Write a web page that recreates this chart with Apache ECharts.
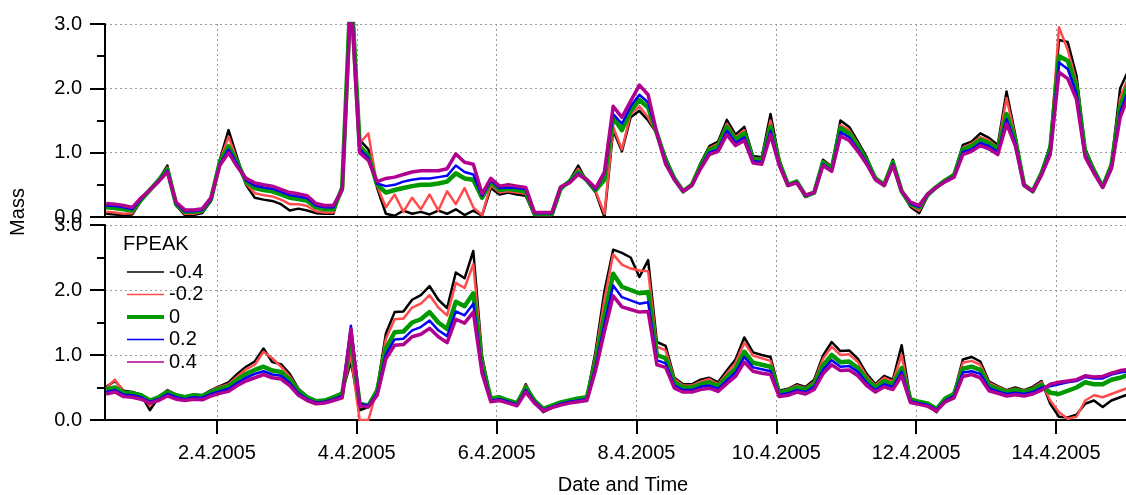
<!DOCTYPE html>
<html>
<head>
<meta charset="utf-8">
<script src="https://cdn.jsdelivr.net/npm/echarts@6/dist/echarts.min.js"></script>
<style>
  html, body { margin: 0; padding: 0; background: #fff; }
  #main { width: 1126px; height: 495px; }
</style>
</head>
<body>
<div id="main"></div>
<script>
// FPEAK values and their colours
const fpeakNames = ["-0.4", "-0.2", "0", "0.2", "0.4"]
const fpeakColors = ["#000000", "#ff4b4b", "#009900", "#0000ff", "#b0008f"]

// x ticks, in days after 1.4.2005 00:00
const tickDays = [1, 3, 5, 7, 9, 11, 13]

// samples every 3 h, first one 31.3.2005 10:00
const firstSample = -14 / 24
const stepDays = 3 / 24

// upper panel
const topM04 = [
  0.05,0.04,0.03,0.04,0.25,0.43,0.58,0.80,0.18,0.03,
  0.03,0.06,0.25,0.89,1.35,0.92,0.50,0.30,0.27,0.25,
  0.20,0.10,0.13,0.10,0.06,0.05,0.05,0.50,3.80,1.20,
  1.05,0.45,0.05,0.02,0.10,0.05,0.08,0.04,0.10,0.05,
  0.12,0.03,0.10,0.02,0.45,0.35,0.38,0.35,0.33,0.02,
  0.02,0.02,0.42,0.56,0.80,0.55,0.38,0.00,1.35,1.02,
  1.55,1.65,1.50,1.30,0.93,0.61,0.39,0.50,0.84,1.10,
  1.17,1.51,1.28,1.40,0.95,0.93,1.60,0.89,0.50,0.56,
  0.31,0.37,0.89,0.78,1.50,1.40,1.17,0.93,0.61,0.50,
  0.89,0.39,0.16,0.06,0.33,0.47,0.58,0.67,1.12,1.17,
  1.30,1.23,1.12,1.95,1.28,0.50,0.39,0.70,1.12,2.75,
  2.72,2.20,1.06,0.75,0.47,0.84,2.00,2.30]
const topM02 = [
  0.08,0.07,0.05,0.06,0.26,0.42,0.57,0.77,0.19,0.05,
  0.05,0.08,0.27,0.87,1.25,0.88,0.52,0.37,0.34,0.32,
  0.27,0.20,0.20,0.17,0.09,0.07,0.07,0.47,3.70,1.15,
  1.30,0.48,0.15,0.35,0.08,0.30,0.12,0.35,0.10,0.40,
  0.20,0.45,0.15,0.03,0.50,0.38,0.40,0.38,0.36,0.03,
  0.03,0.03,0.44,0.55,0.75,0.56,0.40,0.05,1.40,1.05,
  1.60,1.72,1.55,1.30,0.90,0.61,0.39,0.50,0.82,1.07,
  1.14,1.45,1.24,1.35,0.92,0.90,1.50,0.87,0.50,0.55,
  0.32,0.37,0.87,0.77,1.43,1.35,1.14,0.90,0.61,0.50,
  0.87,0.39,0.18,0.10,0.34,0.47,0.57,0.66,1.08,1.14,
  1.24,1.19,1.08,1.85,1.24,0.50,0.39,0.69,1.08,2.95,
  2.60,2.10,1.03,0.73,0.47,0.82,1.85,2.20]
const top0 = [
  0.15,0.14,0.12,0.10,0.27,0.42,0.57,0.74,0.20,0.08,
  0.08,0.10,0.28,0.85,1.10,0.85,0.55,0.45,0.42,0.40,
  0.35,0.30,0.28,0.25,0.15,0.12,0.12,0.45,3.60,1.10,
  0.95,0.50,0.38,0.42,0.45,0.48,0.50,0.50,0.52,0.55,
  0.68,0.60,0.58,0.30,0.55,0.42,0.44,0.42,0.40,0.05,
  0.05,0.05,0.45,0.55,0.70,0.57,0.42,0.58,1.55,1.35,
  1.65,1.82,1.70,1.30,0.88,0.60,0.40,0.50,0.80,1.04,
  1.10,1.40,1.20,1.30,0.90,0.88,1.40,0.85,0.50,0.55,
  0.33,0.38,0.85,0.75,1.38,1.30,1.10,0.88,0.60,0.50,
  0.85,0.40,0.20,0.15,0.35,0.47,0.57,0.65,1.05,1.10,
  1.20,1.15,1.05,1.60,1.20,0.50,0.40,0.68,1.05,2.50,
  2.43,2.02,1.00,0.72,0.47,0.80,1.71,2.10]
const topP02 = [
  0.18,0.17,0.15,0.12,0.28,0.42,0.56,0.72,0.21,0.09,
  0.09,0.11,0.28,0.82,1.05,0.82,0.57,0.49,0.46,0.44,
  0.39,0.34,0.32,0.29,0.18,0.15,0.15,0.44,3.50,1.05,
  0.92,0.52,0.48,0.50,0.55,0.58,0.60,0.60,0.62,0.64,
  0.80,0.70,0.66,0.33,0.57,0.45,0.46,0.45,0.43,0.06,
  0.06,0.06,0.46,0.54,0.68,0.57,0.43,0.68,1.60,1.45,
  1.72,1.90,1.78,1.30,0.85,0.58,0.40,0.49,0.77,1.00,
  1.05,1.34,1.15,1.24,0.87,0.85,1.34,0.82,0.49,0.54,
  0.33,0.38,0.82,0.72,1.32,1.24,1.05,0.85,0.58,0.49,
  0.82,0.40,0.21,0.16,0.35,0.46,0.56,0.63,1.01,1.05,
  1.15,1.10,1.01,1.52,1.15,0.49,0.40,0.66,1.01,2.40,
  2.30,1.92,0.96,0.70,0.46,0.77,1.63,2.00]
const topP04 = [
  0.21,0.20,0.18,0.15,0.30,0.42,0.55,0.70,0.23,0.11,
  0.11,0.13,0.30,0.80,1.00,0.78,0.60,0.53,0.50,0.48,
  0.43,0.38,0.36,0.33,0.21,0.18,0.18,0.42,3.40,1.00,
  0.88,0.55,0.60,0.62,0.66,0.70,0.72,0.72,0.72,0.75,
  0.98,0.85,0.82,0.36,0.60,0.48,0.50,0.48,0.46,0.07,
  0.07,0.07,0.47,0.53,0.66,0.58,0.45,0.70,1.72,1.55,
  1.80,2.05,1.90,1.30,0.82,0.58,0.40,0.49,0.75,0.97,
  1.02,1.28,1.11,1.19,0.84,0.82,1.28,0.80,0.49,0.53,
  0.34,0.38,0.80,0.71,1.26,1.19,1.02,0.82,0.58,0.49,
  0.80,0.40,0.23,0.18,0.36,0.46,0.55,0.62,0.97,1.02,
  1.11,1.06,0.97,1.45,1.11,0.49,0.40,0.65,0.97,2.25,
  2.15,1.83,0.93,0.68,0.46,0.75,1.55,1.90]

// lower panel
const botM04 = [
  0.51,0.60,0.45,0.43,0.39,0.15,0.35,0.46,0.39,0.36,
  0.39,0.38,0.46,0.52,0.58,0.71,0.82,0.90,1.10,0.89,
  0.86,0.71,0.48,0.36,0.28,0.29,0.36,0.42,0.90,0.15,
  0.20,0.48,1.33,1.66,1.67,1.85,1.92,2.06,1.85,1.72,
  2.27,2.18,2.60,0.99,0.33,0.36,0.29,0.24,0.55,0.29,
  0.12,0.19,0.25,0.29,0.33,0.36,1.07,1.98,2.62,2.57,
  2.50,2.20,2.46,1.20,1.14,0.65,0.55,0.55,0.62,0.65,
  0.58,0.76,0.93,1.27,1.04,1.00,0.97,0.45,0.48,0.55,
  0.51,0.62,0.99,1.20,1.06,1.07,0.94,0.71,0.55,0.68,
  0.62,1.15,0.32,0.26,0.22,0.12,0.33,0.42,0.93,0.97,
  0.90,0.59,0.52,0.46,0.50,0.46,0.51,0.60,0.25,0.05,
  0.04,0.08,0.25,0.30,0.20,0.30,0.35,0.40]
const botM02 = [
  0.49,0.62,0.43,0.42,0.39,0.22,0.35,0.45,0.39,0.35,
  0.39,0.37,0.45,0.51,0.55,0.67,0.78,0.85,1.05,0.95,
  0.82,0.67,0.47,0.35,0.28,0.29,0.35,0.41,1.00,0.00,
  0.00,0.47,1.25,1.55,1.56,1.73,1.79,1.92,1.73,1.61,
  2.11,2.03,2.40,0.95,0.33,0.35,0.29,0.24,0.53,0.29,
  0.13,0.19,0.25,0.29,0.33,0.35,1.01,1.85,2.55,2.39,
  2.33,2.30,2.29,1.13,1.07,0.63,0.53,0.53,0.59,0.63,
  0.55,0.72,0.88,1.19,0.99,0.95,0.91,0.43,0.47,0.53,
  0.49,0.59,0.94,1.13,1.00,1.01,0.89,0.67,0.53,0.65,
  0.59,1.00,0.31,0.27,0.23,0.13,0.33,0.41,0.88,0.91,
  0.85,0.57,0.51,0.45,0.48,0.45,0.49,0.58,0.30,0.12,
  0.02,0.05,0.30,0.38,0.35,0.40,0.45,0.50]
const bot0 = [
  0.47,0.50,0.42,0.41,0.38,0.30,0.35,0.43,0.38,0.35,
  0.38,0.37,0.43,0.48,0.52,0.62,0.71,0.77,0.82,0.76,
  0.74,0.62,0.45,0.35,0.29,0.30,0.35,0.40,1.25,0.25,
  0.22,0.45,1.10,1.35,1.36,1.50,1.55,1.66,1.50,1.40,
  1.82,1.75,1.95,0.85,0.33,0.35,0.30,0.26,0.50,0.30,
  0.17,0.22,0.27,0.30,0.33,0.35,0.90,1.60,2.25,2.05,
  2.00,1.95,1.97,1.00,0.95,0.58,0.50,0.50,0.55,0.58,
  0.52,0.66,0.79,1.05,0.88,0.85,0.82,0.42,0.45,0.50,
  0.47,0.55,0.84,1.00,0.89,0.90,0.80,0.62,0.50,0.60,
  0.55,0.80,0.32,0.28,0.25,0.17,0.33,0.40,0.79,0.82,
  0.77,0.53,0.48,0.43,0.46,0.43,0.47,0.54,0.42,0.40,
  0.45,0.50,0.58,0.55,0.55,0.62,0.65,0.70]
const botP02 = [
  0.43,0.46,0.39,0.38,0.35,0.28,0.32,0.40,0.35,0.32,
  0.35,0.34,0.40,0.44,0.48,0.57,0.65,0.71,0.75,0.70,
  0.68,0.57,0.41,0.32,0.27,0.28,0.32,0.37,1.45,0.25,
  0.22,0.41,1.01,1.24,1.25,1.38,1.43,1.53,1.38,1.29,
  1.67,1.61,1.79,0.78,0.30,0.32,0.28,0.24,0.46,0.28,
  0.16,0.20,0.25,0.28,0.30,0.32,0.83,1.47,2.07,1.89,
  1.84,1.79,1.81,0.92,0.87,0.53,0.46,0.46,0.51,0.53,
  0.48,0.61,0.73,0.97,0.81,0.78,0.75,0.39,0.41,0.46,
  0.43,0.51,0.77,0.92,0.82,0.83,0.74,0.57,0.46,0.55,
  0.51,0.74,0.29,0.26,0.23,0.16,0.30,0.37,0.73,0.75,
  0.71,0.49,0.44,0.40,0.42,0.40,0.43,0.50,0.52,0.55,
  0.58,0.60,0.66,0.64,0.64,0.70,0.73,0.75]
const botP04 = [
  0.40,0.43,0.36,0.35,0.32,0.26,0.30,0.37,0.32,0.30,
  0.32,0.31,0.37,0.41,0.44,0.53,0.60,0.65,0.70,0.65,
  0.63,0.53,0.38,0.30,0.25,0.26,0.30,0.34,1.40,0.22,
  0.20,0.38,0.94,1.15,1.16,1.28,1.32,1.41,1.28,1.19,
  1.55,1.49,1.66,0.72,0.28,0.30,0.26,0.22,0.43,0.26,
  0.14,0.19,0.23,0.26,0.28,0.30,0.77,1.36,1.91,1.74,
  1.70,1.66,1.67,0.85,0.81,0.49,0.43,0.43,0.47,0.49,
  0.44,0.56,0.67,0.89,0.75,0.72,0.70,0.36,0.38,0.43,
  0.40,0.47,0.71,0.85,0.76,0.77,0.68,0.53,0.43,0.51,
  0.47,0.68,0.27,0.24,0.21,0.14,0.28,0.34,0.67,0.70,
  0.65,0.45,0.41,0.37,0.39,0.37,0.40,0.46,0.55,0.58,
  0.60,0.62,0.68,0.66,0.67,0.72,0.76,0.78]

const topSets = [topM04, topM02, top0, topP02, topP04]
const botSets = [botM04, botM02, bot0, botP02, botP04]
// the original traces are noisy bands, so the plotted lines are kept fairly heavy
const lineWidths = [2.5, 2.5, 4.5, 2.5, 3.5]

const FONT = "Liberation Sans, Arial, sans-serif"
const gridLine = { show: true, lineStyle: { color: "#9a9a9a", width: 1, type: [2, 3] } }

const toPairs = arr => arr.map((v, i) => [firstSample + i * stepDays, v])

const makeX = (gridIndex, withLabels) => ({
  type: "value",
  gridIndex,
  min: -0.6,
  max: 14,
  axisLine: { show: true, onZero: false, lineStyle: { color: "#000", width: 2 } },
  axisTick: {
    show: withLabels,
    customValues: tickDays,
    length: 14,
    lineStyle: { color: "#000", width: 2 },
  },
  axisLabel: {
    show: withLabels,
    customValues: tickDays,
    margin: 23,
    color: "#000",
    fontSize: 20,
    fontFamily: FONT,
    formatter: v => Math.round(v + 1) + ".4.2005",
  },
  splitLine: gridLine,
})

const makeY = gridIndex => ({
  type: "value",
  gridIndex,
  min: 0,
  max: 3,
  interval: 1,
  axisLine: { show: true, onZero: false, lineStyle: { color: "#000", width: 2 } },
  axisTick: { show: true, length: 15, lineStyle: { color: "#000", width: 2 } },
  minorTick: { show: true, splitNumber: 2, length: 8, lineStyle: { color: "#000", width: 2 } },
  axisLabel: {
    margin: 23,
    color: "#000",
    fontSize: 20,
    fontFamily: FONT,
    formatter: v => v.toFixed(1),
  },
  splitLine: gridLine,
})

const series = []
;[topSets, botSets].forEach((sets, panel) => {
  sets.forEach((arr, k) => {
    series.push({
      name: fpeakNames[k],
      type: "line",
      xAxisIndex: panel,
      yAxisIndex: panel,
      data: toPairs(arr),
      symbol: "none",
      clip: true,
      color: fpeakColors[k],
      lineStyle: { width: lineWidths[k], color: fpeakColors[k], join: "round" },
      z: 2 + k,
    })
  })
})

const chart = echarts.init(document.getElementById("main"), null, { renderer: "canvas" })

chart.setOption({
  animation: false,
  backgroundColor: "#fff",
  grid: [
    { left: 105, right: 0, top: 24, height: 193 },
    { left: 105, right: 0, top: 225, height: 195 },
  ],
  xAxis: [makeX(0, false), makeX(1, true)],
  yAxis: [makeY(0), makeY(1)],
  legend: {
    orient: "vertical",
    left: 120,
    top: 257,
    itemWidth: 37,
    itemHeight: 14,
    itemGap: 2.5,
    itemStyle: { opacity: 0 },
    textStyle: { color: "#000", fontSize: 20, fontFamily: FONT },
    data: fpeakNames.map((n, k) => ({
      name: n,
      lineStyle: { width: k === 2 ? 4 : 1.5 },
    })),
  },
  graphic: [
    {
      type: "text",
      left: 123,
      top: 234,
      style: { text: "FPEAK", fill: "#000", font: "20px " + FONT },
    },
    {
      type: "text",
      x: 18,
      y: 212,
      rotation: Math.PI / 2,
      style: {
        text: "Mass",
        fill: "#000",
        font: "20px " + FONT,
        align: "center",
        verticalAlign: "middle",
      },
    },
    {
      type: "text",
      x: 623,
      y: 485,
      style: {
        text: "Date and Time",
        fill: "#000",
        font: "20px " + FONT,
        align: "center",
        verticalAlign: "middle",
      },
    },
  ],
  series,
})
</script>
</body>
</html>
